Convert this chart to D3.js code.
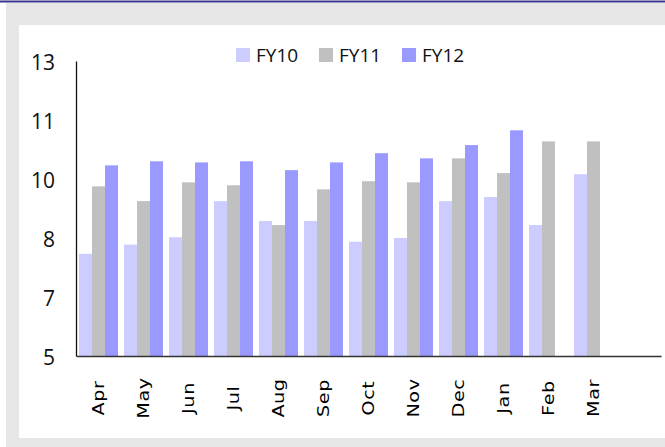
<!DOCTYPE html>
<html>
<head>
<meta charset="utf-8">
<script src="https://cdn.jsdelivr.net/npm/d3@7"></script>
<style>
  body { margin: 0; background: #fff; }
  svg { display: block; }
</style>
</head>
<body>
<div id="chart"></div>
<script>
// data
const months = ["Apr", "May", "Jun", "Jul", "Aug", "Sep", "Oct", "Nov", "Dec", "Jan", "Feb", "Mar"];
const seriesNames = ["FY10", "FY11", "FY12"];
const fy10 = [7.77, 8.02, 8.22, 9.2, 8.66, 8.66, 8.1, 8.2, 9.2, 9.31, 8.55, 9.93];
const fy11 = [9.6, 9.2, 9.71, 9.63, 8.55, 9.52, 9.74, 9.71, 10.36, 9.96, 10.82, 10.82];
const fy12 = [10.17, 10.28, 10.25, 10.28, 10.04, 10.25, 10.5, 10.36, 10.72, 11.12, null, null];
const yTicks = [5, 6.6, 8.2, 9.8, 11.4, 13];
const colors = ["#ccccff", "#c0c0c0", "#9999ff"];

const W = 665, H = 447;
const plot = { left: 76, right: 661, top: 61, bottom: 356 };

const svg = d3.select("#chart").append("svg")
  .attr("width", W)
  .attr("height", H);

// frame: grey border, white panel, navy rule on top
svg.append("rect").attr("x", 6).attr("y", 3).attr("width", W - 6).attr("height", H - 3).attr("fill", "#e6e6e6");
svg.append("rect").attr("x", 19).attr("y", 25).attr("width", W - 19).attr("height", 413).attr("fill", "#fff");
svg.append("rect").attr("x", 0).attr("y", 0.5).attr("width", W).attr("height", 2).attr("fill", "#35358a");

// scales (13 slots, the last one is empty like in the sheet)
const x0 = d3.scaleBand()
  .domain(months.concat([" "]))
  .range([plot.left, plot.right])
  .padding(0);

const x1 = d3.scaleBand()
  .domain(seriesNames)
  .range([3, x0.bandwidth() - 3])
  .padding(0);

const y = d3.scaleLinear()
  .domain([5, 13])
  .range([plot.bottom, plot.top]);

const table = months.map(function (m, i) {
  return { month: m, values: [fy10[i], fy11[i], fy12[i]] };
});

// bars
const groups = svg.append("g")
  .selectAll("g")
  .data(table)
  .join("g")
  .attr("transform", function (d) { return `translate(${x0(d.month)},0)`; });

groups.selectAll("rect")
  .data(function (d) {
    return d.values.map(function (v, j) { return { key: seriesNames[j], value: v, c: colors[j] }; })
      .filter(function (e) { return e.value != null; });
  })
  .join("rect")
  .attr("x", function (d) { return x1(d.key); })
  .attr("y", function (d) { return y(d.value); })
  .attr("width", x1.bandwidth())
  .attr("height", function (d) { return y(5) - y(d.value); })
  .attr("fill", function (d) { return d.c; });

// y axis
const yAxis = svg.append("g")
  .attr("transform", `translate(${plot.left},0)`)
  .call(d3.axisLeft(y).tickValues(yTicks).tickFormat(d3.format(".0f")).tickSize(0).tickPadding(21));
yAxis.select(".domain").attr("stroke", "#111").attr("stroke-width", 1.3);
yAxis.selectAll("text")
  .attr("font-family", "'Open Sans', sans-serif")
  .attr("font-size", "21px")
  .attr("fill", "#111")
  .attr("dy", "0.4em");

// x axis
const xAxis = svg.append("g")
  .attr("transform", `translate(0,${plot.bottom})`)
  .call(d3.axisBottom(x0).tickSize(0).tickSizeOuter(0));
xAxis.select(".domain").attr("stroke", "#333").attr("stroke-width", 1.6);
xAxis.selectAll("text")
  .attr("font-family", "'DejaVu Sans', sans-serif")
  .attr("font-size", "16px")
  .attr("letter-spacing", "0.5px")
  .attr("fill", "#000")
  .attr("text-anchor", "middle")
  .attr("y", null)
  .attr("dy", "0.35em")
  .attr("transform", "translate(0,42) rotate(-90) scale(1.2,1)");

// legend
const legend = svg.append("g")
  .selectAll("g")
  .data(seriesNames)
  .join("g")
  .attr("transform", function (d, i) { return `translate(${236 + i * 83},48)`; });

legend.append("rect")
  .attr("width", 14)
  .attr("height", 14)
  .attr("fill", function (d, i) { return colors[i]; });

legend.append("text")
  .attr("x", 20)
  .attr("y", 14)
  .attr("font-family", "'Open Sans', sans-serif")
  .attr("font-size", "19px")
  .attr("fill", "#111")
  .text(function (d) { return d; });
</script>
</body>
</html>
